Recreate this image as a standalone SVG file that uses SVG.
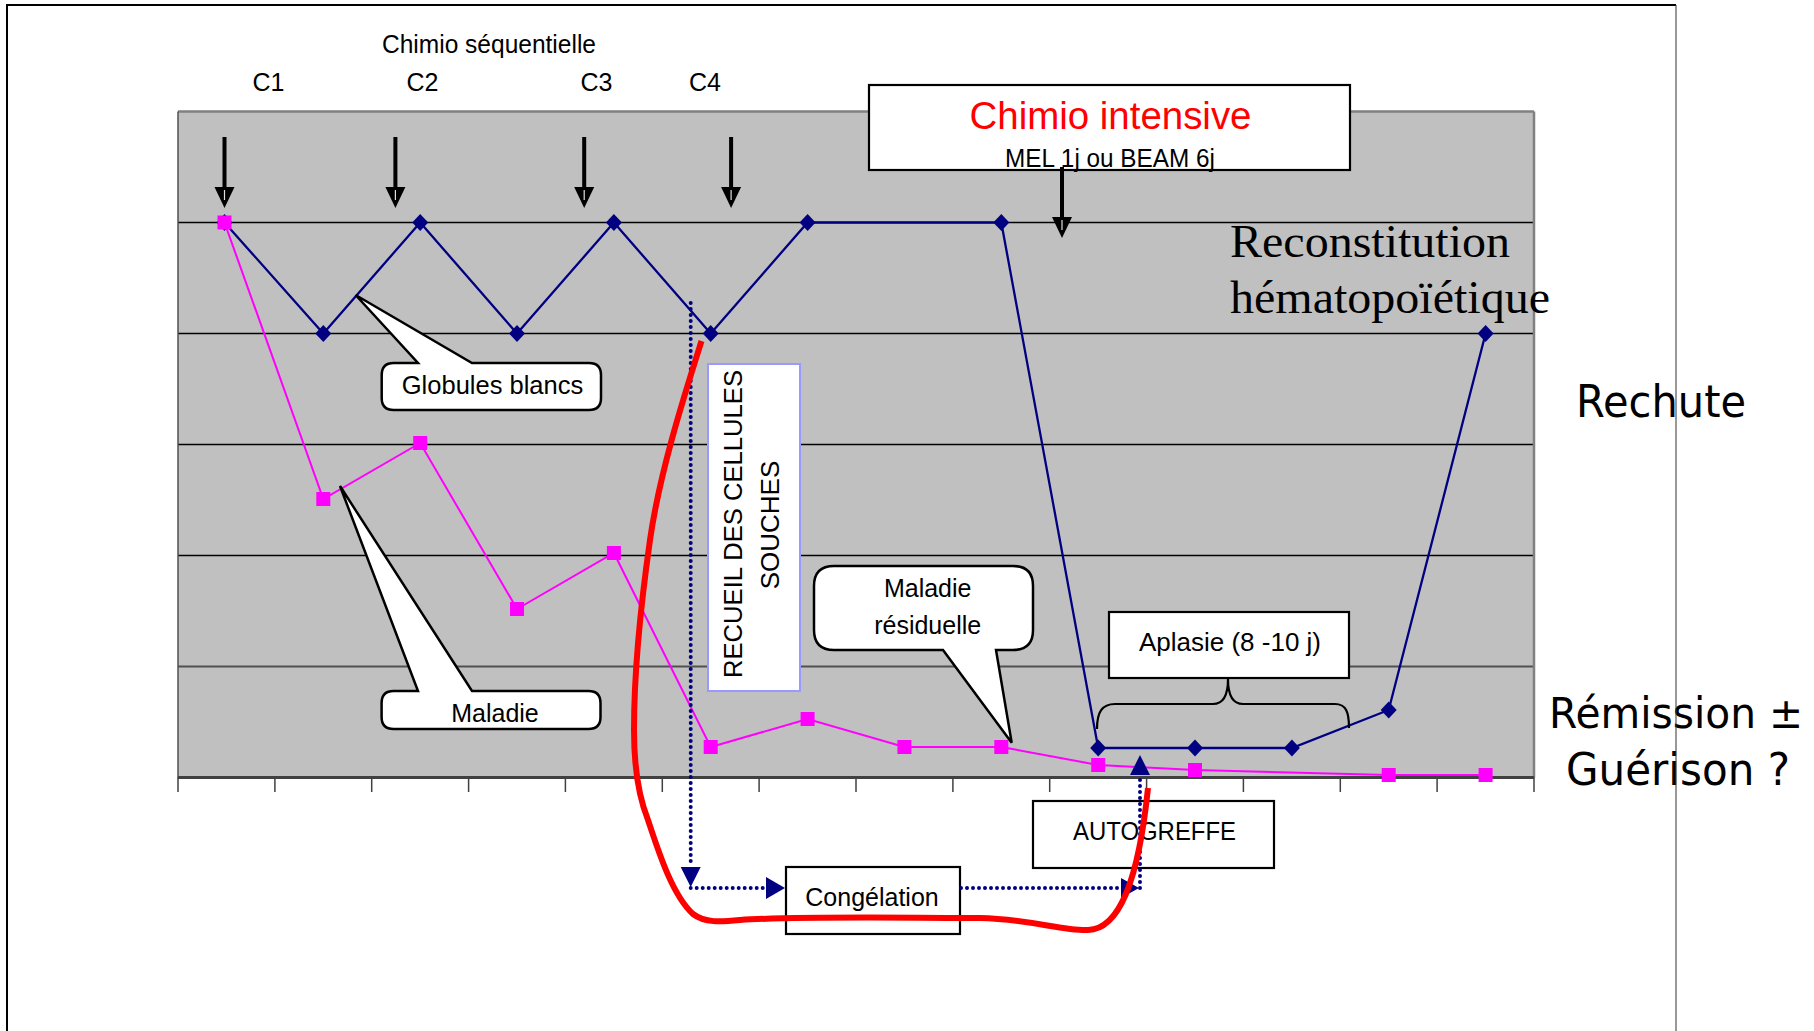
<svg xmlns="http://www.w3.org/2000/svg" xmlns:xlink="http://www.w3.org/1999/xlink" width="1814" height="1031" viewBox="0 0 1814 1031">
<style>
.t{font-family:"Liberation Sans",Arial,sans-serif;fill:#000}
.serif{font-family:"Liberation Serif","Times New Roman",serif;fill:#000}
.big{font-family:"DejaVu Sans",Verdana,sans-serif;fill:#000}
.grid{stroke:#000;stroke-width:1.3}
.box{fill:#fff;stroke:#000;stroke-width:2.2}
.call{fill:#fff;stroke:#000;stroke-width:2.5;stroke-linejoin:miter}
.dot{fill:none;stroke:#000080;stroke-width:4;stroke-dasharray:0 6;stroke-linecap:round}
.nav{fill:#000080}
.tick{stroke:#404040;stroke-width:1.5}
</style>
<defs>
<path id="dia" d="M0,-8.5 L8,0 L0,8.5 L-8,0Z" fill="#000080"/>
<rect id="sq" x="-7" y="-7" width="14" height="14" fill="#FF00FF"/>
<g id="darrow">
<rect x="-2" y="0" width="4" height="56" fill="#000"/>
<path d="M-10,50 L10,50 L0,71 Z" fill="#000"/>
<line x1="0" y1="53" x2="0" y2="63" stroke="#e0e0e0" stroke-width="1.2"/>
</g>
</defs>

<rect width="1814" height="1031" fill="#fff"/>

<g id="plot">
<rect x="178" y="111.5" width="1356" height="666" fill="#C0C0C0"/>
<line class="grid" x1="178" y1="222.5" x2="1534" y2="222.5"/>
<line class="grid" x1="178" y1="333.5" x2="1534" y2="333.5"/>
<line class="grid" x1="178" y1="444.5" x2="1534" y2="444.5"/>
<line class="grid" x1="178" y1="555.5" x2="1534" y2="555.5"/>
<line x1="178" y1="666.5" x2="1534" y2="666.5" stroke="#505050" stroke-width="2"/>
<line x1="178" y1="111.5" x2="1534" y2="111.5" stroke="#808080" stroke-width="2.5"/>
<line x1="1534" y1="111.5" x2="1534" y2="777.5" stroke="#808080" stroke-width="2.5"/>
<line x1="178" y1="111.5" x2="178" y2="777.5" stroke="#505050" stroke-width="1.5"/>
<line x1="178" y1="777.5" x2="1534" y2="777.5" stroke="#404040" stroke-width="3"/>
<g class="tick">
<line x1="178" y1="777" x2="178" y2="792"/>
<line x1="274.9" y1="777" x2="274.9" y2="792"/>
<line x1="371.7" y1="777" x2="371.7" y2="792"/>
<line x1="468.6" y1="777" x2="468.6" y2="792"/>
<line x1="565.4" y1="777" x2="565.4" y2="792"/>
<line x1="662.3" y1="777" x2="662.3" y2="792"/>
<line x1="759.1" y1="777" x2="759.1" y2="792"/>
<line x1="856" y1="777" x2="856" y2="792"/>
<line x1="952.9" y1="777" x2="952.9" y2="792"/>
<line x1="1049.7" y1="777" x2="1049.7" y2="792"/>
<line x1="1146.6" y1="777" x2="1146.6" y2="792"/>
<line x1="1243.4" y1="777" x2="1243.4" y2="792"/>
<line x1="1340.3" y1="777" x2="1340.3" y2="792"/>
<line x1="1437.1" y1="777" x2="1437.1" y2="792"/>
<line x1="1534" y1="777" x2="1534" y2="792"/>
</g>
</g>

<g id="series-globules">
<polyline points="224.5,222.5 323.3,333.5 420.2,222.5 517,333.5 613.9,222.5 710.7,333.5 807.6,222.5 1001.3,222.5 1098.2,748 1195,748 1291.9,748 1388.7,710 1485.6,333.5" fill="none" stroke="#000080" stroke-width="2.3"/>
<use xlink:href="#dia" x="224.5" y="222.5"/>
<use xlink:href="#dia" x="323.3" y="333.5"/>
<use xlink:href="#dia" x="420.2" y="222.5"/>
<use xlink:href="#dia" x="517" y="333.5"/>
<use xlink:href="#dia" x="613.9" y="222.5"/>
<use xlink:href="#dia" x="710.7" y="333.5"/>
<use xlink:href="#dia" x="807.6" y="222.5"/>
<use xlink:href="#dia" x="1001.3" y="222.5"/>
<use xlink:href="#dia" x="1098.2" y="748"/>
<use xlink:href="#dia" x="1195" y="748"/>
<use xlink:href="#dia" x="1291.9" y="748"/>
<use xlink:href="#dia" x="1388.7" y="710"/>
<use xlink:href="#dia" x="1485.6" y="333.5"/>
</g>

<g id="series-maladie">
<polyline points="224.5,222.5 323.3,499 420.2,443 517,609 613.9,553 710.7,747 807.6,719 904.4,747 1001.3,747 1098.2,765 1195,770 1388.7,775 1485.6,775" fill="none" stroke="#FF00FF" stroke-width="2"/>
<use xlink:href="#sq" x="224.5" y="222.5"/>
<use xlink:href="#sq" x="323.3" y="499"/>
<use xlink:href="#sq" x="420.2" y="443"/>
<use xlink:href="#sq" x="517" y="609"/>
<use xlink:href="#sq" x="613.9" y="553"/>
<use xlink:href="#sq" x="710.7" y="747"/>
<use xlink:href="#sq" x="807.6" y="719"/>
<use xlink:href="#sq" x="904.4" y="747"/>
<use xlink:href="#sq" x="1001.3" y="747"/>
<use xlink:href="#sq" x="1098.2" y="765"/>
<use xlink:href="#sq" x="1195" y="770"/>
<use xlink:href="#sq" x="1388.7" y="775"/>
<use xlink:href="#sq" x="1485.6" y="775"/>
</g>

<g id="chimio-sequentielle">
<text class="t" x="489" y="53" font-size="25" text-anchor="middle" textLength="214" lengthAdjust="spacingAndGlyphs">Chimio séquentielle</text>
<text class="t" x="268.5" y="91" font-size="25" text-anchor="middle">C1</text>
<text class="t" x="422.5" y="91" font-size="25" text-anchor="middle">C2</text>
<text class="t" x="596.5" y="91" font-size="25" text-anchor="middle">C3</text>
<text class="t" x="705" y="91" font-size="25" text-anchor="middle">C4</text>
</g>

<g id="callout-globules">
<path class="call" d="M393.7,363 L418,363 L355.6,295 L472,363 L589,363 Q601,363 601,375 L601,398 Q601,410 589,410 L393.7,410 Q381.7,410 381.7,398 L381.7,375 Q381.7,363 393.7,363 Z"/>
<text class="t" x="492.5" y="394" font-size="25.5" text-anchor="middle">Globules blancs</text>
</g>

<g id="callout-maladie">
<path class="call" d="M393.6,691 L418,691 L340,486 L472,691 L588.5,691 Q600.5,691 600.5,703 L600.5,717 Q600.5,729 588.5,729 L393.6,729 Q381.6,729 381.6,717 L381.6,703 Q381.6,691 393.6,691 Z"/>
<text class="t" x="495" y="722" font-size="25" text-anchor="middle">Maladie</text>
</g>

<g id="recueil">
<rect x="708" y="364" width="92" height="327" fill="#fff" stroke="#9999FF" stroke-width="2"/>
<text class="t" transform="translate(742,524) rotate(-90)" font-size="26" text-anchor="middle" textLength="308" lengthAdjust="spacingAndGlyphs">RECUEIL DES CELLULES</text>
<text class="t" transform="translate(779,525) rotate(-90)" font-size="26" text-anchor="middle">SOUCHES</text>
</g>

<g id="callout-residuelle">
<path class="call" d="M834,566 L1013,566 Q1033,566 1033,586 L1033,630 Q1033,650 1013,650 L996,650 L1011.7,742.7 L943,650 L834,650 Q814,650 814,630 L814,586 Q814,566 834,566 Z"/>
<text class="t" x="927.7" y="597" font-size="25" text-anchor="middle">Maladie</text>
<text class="t" x="927.7" y="634" font-size="25" text-anchor="middle">résiduelle</text>
</g>

<g id="aplasie">
<rect class="box" x="1109" y="612" width="240" height="66"/>
<text class="t" x="1230" y="651" font-size="26" text-anchor="middle">Aplasie (8 -10 j)</text>
<path d="M1097,729 C1097,712 1102,704 1115,704 L1213,704 C1224,704 1228,695 1228,679 C1228,695 1232,704 1243,704 L1335,704 C1346,704 1349,712 1349,728" fill="none" stroke="#000" stroke-width="2.2"/>
</g>

<g id="chimio-intensive">
<rect class="box" x="869" y="85" width="481" height="85"/>
<text x="1110.5" y="129" font-size="39" text-anchor="middle" textLength="282" lengthAdjust="spacingAndGlyphs" style="font-family:'Liberation Sans',Arial,sans-serif;fill:#FF0000">Chimio intensive</text>
<text class="t" x="1110" y="167" font-size="25" text-anchor="middle" textLength="210" lengthAdjust="spacingAndGlyphs">MEL 1j ou BEAM 6j</text>
</g>

<g id="congelation">
<rect class="box" x="786" y="867" width="174" height="67"/>
<text class="t" x="872" y="906" font-size="25" text-anchor="middle">Congélation</text>
</g>

<g id="autogreffe">
<rect class="box" x="1033" y="801" width="241" height="67"/>
<text class="t" x="1154.5" y="840" font-size="25" text-anchor="middle" textLength="163" lengthAdjust="spacingAndGlyphs">AUTOGREFFE</text>
</g>

<g id="labels">
<text class="serif" x="1230" y="257" font-size="47" textLength="280" lengthAdjust="spacingAndGlyphs">Reconstitution</text>
<text class="serif" x="1230" y="313" font-size="47" textLength="320" lengthAdjust="spacingAndGlyphs">hématopoïétique</text>
<text class="big" x="1576" y="417" font-size="44" textLength="170" lengthAdjust="spacingAndGlyphs">Rechute</text>
<text class="big" x="1549" y="728" font-size="43" textLength="254" lengthAdjust="spacingAndGlyphs">Rémission ±</text>
<text class="big" x="1566" y="785" font-size="44" textLength="224" lengthAdjust="spacingAndGlyphs">Guérison ?</text>
</g>

<g id="connectors">
<use xlink:href="#darrow" x="224.5" y="137"/>
<use xlink:href="#darrow" x="395.4" y="137"/>
<use xlink:href="#darrow" x="584.2" y="137"/>
<use xlink:href="#darrow" x="731.1" y="137"/>
<use xlink:href="#darrow" x="1062" y="167"/>

<path class="dot" d="M690.7,303 V866"/>
<path class="nav" d="M680.7,867 L700.7,867 L690.7,887 Z"/>
<path class="dot" d="M690.7,888 H764"/>
<path class="nav" d="M766,877 L766,899 L785,888 Z"/>
<path class="dot" d="M961,888 H1120"/>
<path class="nav" d="M1121,878 L1121,898 L1139,888 Z"/>
<path class="dot" d="M1140,888 V777"/>
<path class="nav" d="M1130,775 L1150,775 L1140,755 Z"/>

<path d="M701.5,341 C686,390 660,470 650,540 C640,610 634,680 634,730 C634,770 640,800 648,820 C658,850 672,895 693,914 C705,923 720,922 740,920 C800,916 900,918 980,918 C1030,919 1062,931 1088,930 C1118,929 1138,885 1148,788" fill="none" stroke="#FF0000" stroke-width="6" stroke-linecap="butt"/>
</g>

<g id="frame">
<path d="M7,1031 V5 H1676" fill="none" stroke="#000" stroke-width="2"/>
<line x1="1676" y1="5" x2="1676" y2="1031" stroke="#333" stroke-width="1"/>
</g>
</svg>
